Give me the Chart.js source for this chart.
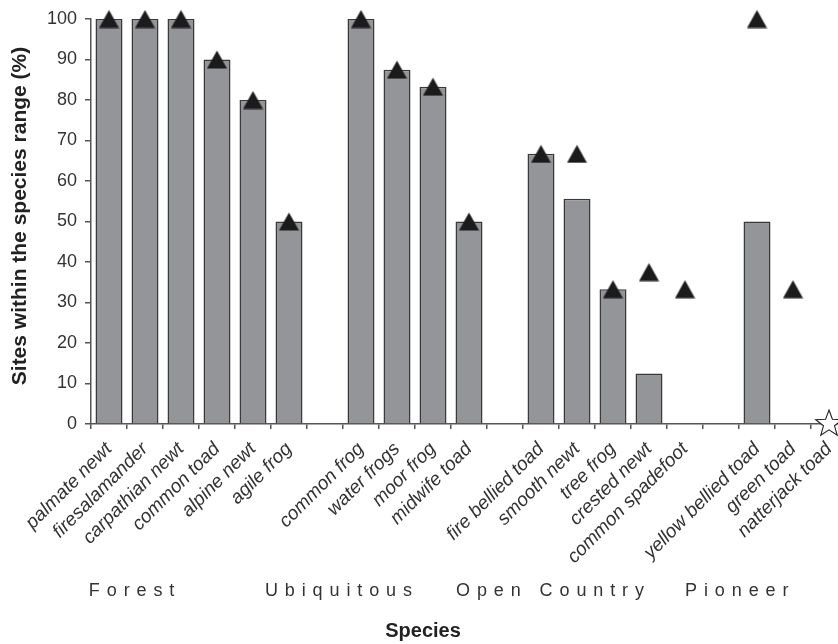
<!DOCTYPE html>
<html>
<head>
<meta charset="utf-8">
<script src="https://cdn.jsdelivr.net/npm/chart.js@4.4.1/dist/chart.umd.min.js"></script>
<style>
  html, body { margin: 0; padding: 0; background: #fff; overflow: hidden; }
  canvas { display: block; }
</style>
</head>
<body>
<canvas id="chart" width="862" height="644"></canvas>
<script>
// Species along the x axis; empty entries separate the habitat groups.
const species = [
  'palmate newt', 'firesalamander', 'carpathian newt', 'common toad', 'alpine newt', 'agile frog', '',
  'common frog', 'water frogs', 'moor frog', 'midwife toad', '',
  'fire bellied toad', 'smooth newt', 'tree frog', 'crested newt', 'common spadefoot', '',
  'yellow bellied toad', 'green toad', 'natterjack toad'
];

// Bars: share of sites within the species range (%)
const barValues = [
  100, 100, 100, 90, 80, 50, null,
  100, 87.5, 83.3, 50, null,
  66.7, 55.6, 33.3, 12.5, null, null,
  50, null, null
];

// Triangles: second measure for the same species (%)
const triangleValues = [
  100, 100, 100, 90, 80, 50, null,
  100, 87.5, 83.3, 50, null,
  66.7, 66.7, 33.3, 37.5, 33.3, null,
  100, 33.3, null
];

// Open star: natterjack toad
const starValues = [
  null, null, null, null, null, null, null,
  null, null, null, null, null,
  null, null, null, null, null, null,
  null, null, 0
];

// Habitat groups written under the species names
const groups = ['Forest', 'Ubiquitous', 'Open Country', 'Pioneer'];

// Axis titles
const yTitle = 'Sites within the species range (%)';
const xTitle = 'Species';

// Y axis range and step
const yMin = 0, yMax = 100, yStep = 10;

const FONT = "'Liberation Sans', Arial, Helvetica, sans-serif";
Chart.defaults.font.family = FONT;

// Solid black triangle, centred on its box
function triangleMarker() {
  const c = document.createElement('canvas');
  c.width = 21; c.height = 19;
  const g = c.getContext('2d');
  g.beginPath();
  g.moveTo(10.5, 0.5);
  g.lineTo(20.5, 18.5);
  g.lineTo(0.5, 18.5);
  g.closePath();
  g.fillStyle = '#1b1b1b';
  g.fill();
  return c;
}

// Open five-pointed star
function starMarker() {
  const size = 32, cx = 16, cy = 16, R = 14, r = 5.8;
  const c = document.createElement('canvas');
  c.width = size; c.height = size;
  const g = c.getContext('2d');
  g.beginPath();
  for (let i = 0; i < 10; i++) {
    const rad = (i % 2 === 0) ? R : r;
    const a = -Math.PI / 2 + i * Math.PI / 5;
    const px = cx + rad * Math.cos(a), py = cy + rad * Math.sin(a);
    if (i === 0) g.moveTo(px, py); else g.lineTo(px, py);
  }
  g.closePath();
  g.fillStyle = '#ffffff';
  g.fill();
  g.lineWidth = 1.1;
  g.strokeStyle = '#222';
  g.stroke();
  return c;
}

// Left edge of each group caption, in category units
const groupAnchor = [-0.56, 4.33, 9.64, 16.0];

// Group captions and both axis titles
const captions = {
  id: 'captions',
  afterDraw(chart) {
    const { ctx } = chart;
    const x = chart.scales.x;
    ctx.save();
    ctx.font = '18px ' + FONT;
    ctx.fillStyle = '#333';
    ctx.textBaseline = 'middle';
    ctx.textAlign = 'left';
    groups.forEach((name, i) => {
      let px = x.getPixelForValue(groupAnchor[i]);
      for (const ch of name) {
        ctx.fillText(ch, px, 591);
        px += ctx.measureText(ch).width + 6.9;
      }
    });
    ctx.font = 'bold 20px ' + FONT;
    ctx.fillStyle = '#222';
    ctx.textAlign = 'center';
    ctx.fillText(xTitle, 423, 631);

    ctx.translate(20, 216);
    ctx.rotate(-Math.PI / 2);
    ctx.font = 'bold 21px ' + FONT;
    ctx.fillText(yTitle, 0, 0);
    ctx.restore();
  }
};

const axisColor = '#555';

new Chart(document.getElementById('chart'), {
  type: 'bar',
  data: {
    labels: species,
    datasets: [
      {
        type: 'line',
        data: starValues,
        showLine: false,
        pointStyle: starMarker(),
        pointRadius: 14,
        clip: false,
        order: 0
      },
      {
        type: 'line',
        data: triangleValues,
        showLine: false,
        pointStyle: triangleMarker(),
        pointRadius: 10,
        clip: false,
        order: 1
      },
      {
        type: 'bar',
        data: barValues,
        backgroundColor: '#939598',
        borderColor: '#3a3a3a',
        borderWidth: 1.5,
        barPercentage: 0.75,
        categoryPercentage: 1,
        order: 2
      }
    ]
  },
  options: {
    responsive: false,
    animation: false,
    events: [],
    layout: { padding: { top: 19, right: 1, left: 0, bottom: 0 } },
    plugins: { legend: { display: false }, tooltip: { enabled: false } },
    scales: {
      x: {
        offset: true,
        grid: { offset: true, drawOnChartArea: false, drawTicks: true, tickLength: 5, color: axisColor, lineWidth: 1.5 },
        border: { color: axisColor, width: 1.5 },
        ticks: {
          autoSkip: false, minRotation: 45, maxRotation: 45, padding: 9,
          color: '#333',
          font: { size: 19, style: 'italic' }
        },
        afterFit(scale) {
          scale.height = 220;
          scale.paddingLeft = 0;
          scale.paddingRight = 0;
        }
      },
      y: {
        min: yMin, max: yMax,
        grid: { drawOnChartArea: false, drawTicks: true, tickLength: 6, color: axisColor, lineWidth: 1.5 },
        border: { color: axisColor, width: 1.5 },
        ticks: { stepSize: yStep, padding: 8, color: '#333', font: { size: 18 } },
        afterFit(scale) { scale.width = 91; }
      }
    }
  },
  plugins: [captions]
});
</script>
</body>
</html>
